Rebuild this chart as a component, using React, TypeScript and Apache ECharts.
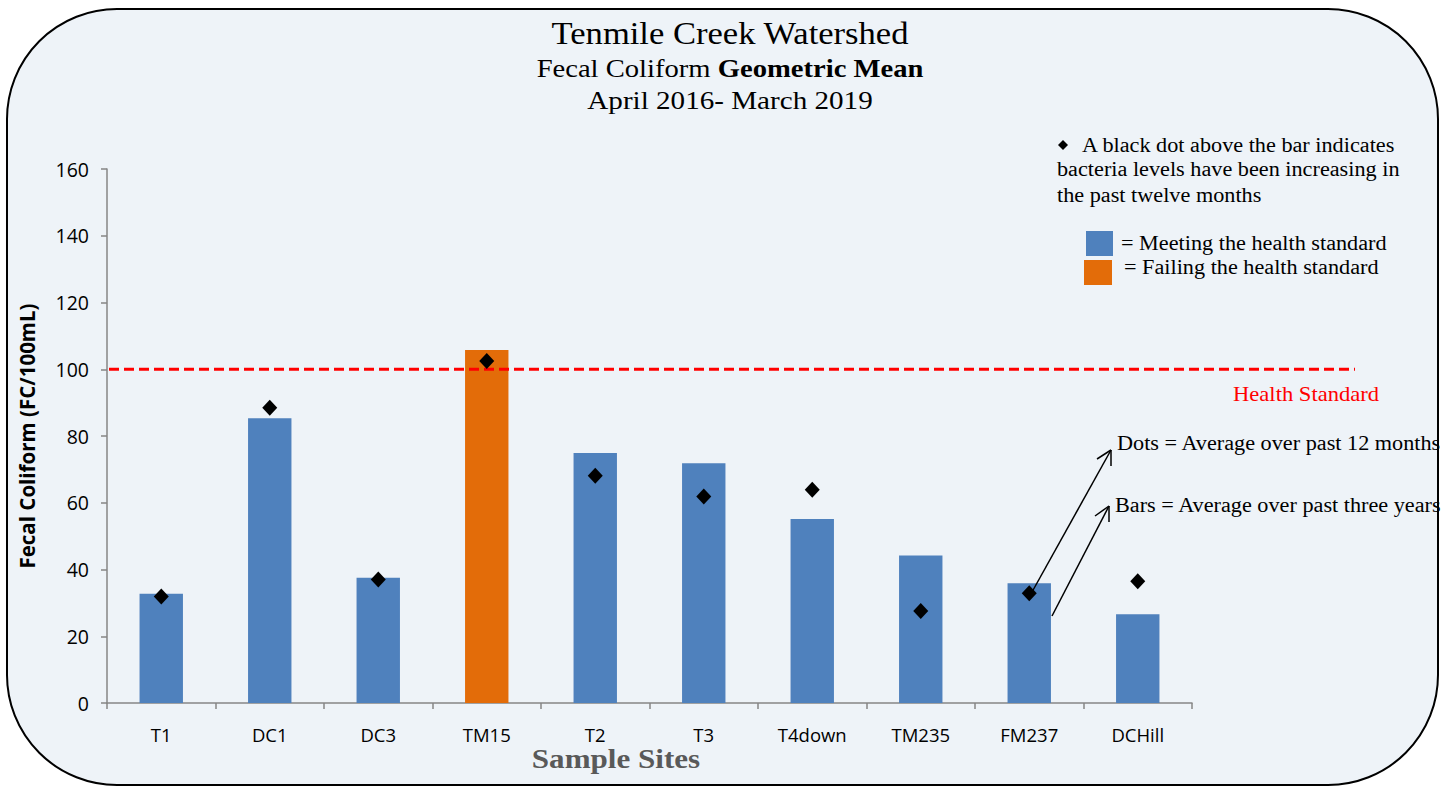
import React, { useEffect, useRef } from "react";
import * as echarts from "echarts";

const sites = ["T1", "DC1", "DC3", "TM15", "T2", "T3", "T4down", "TM235", "FM237", "DCHill"];
const threeYearMean = [32.7, 85.3, 37.5, 105.8, 74.9, 71.8, 55.1, 44.2, 35.9, 26.6];
const twelveMonthMean = [31.9, 88.5, 37.0, 102.5, 68.1, 61.9, 63.9, 27.6, 32.9, 36.5];
const healthStandard = 100;
const yTicks = { min: 0, max: 160, interval: 20 };

const BLUE = "#4F81BD";
const ORANGE = "#E36C09";
const SERIF = "'Liberation Serif', serif";
const SANS = "'Open Sans', sans-serif";

export default function App() {
  const ref = useRef<HTMLDivElement>(null);
  useEffect(() => {
    if (!ref.current) return;
    const chart = echarts.init(ref.current, undefined, { renderer: "svg" });
    chart.setOption({
      animation: false,
      backgroundColor: "#ffffff",
      grid: { left: 107, right: 263, top: 169, bottom: 84 },
      xAxis: {
        type: "category",
        data: sites,
        axisLine: { lineStyle: { color: "#868686", width: 1.5 } },
        axisTick: { show: true, length: 6, lineStyle: { color: "#868686", width: 1.5 } },
        axisLabel: { color: "#000", fontSize: 18.5, fontFamily: SANS, margin: 22 },
      },
      yAxis: {
        type: "value",
        min: yTicks.min,
        max: yTicks.max,
        interval: yTicks.interval,
        name: "Fecal Coliform (FC/100mL)",
        nameLocation: "middle",
        nameGap: 70,
        nameTextStyle: { color: "#000", fontSize: 20.5, fontWeight: "bold", fontFamily: SANS },
        axisLine: { show: true, lineStyle: { color: "#868686", width: 1.5 } },
        axisTick: { show: true, length: 6, lineStyle: { color: "#868686", width: 1.5 } },
        axisLabel: { color: "#000", fontSize: 19.5, fontFamily: SANS, margin: 18 },
        splitLine: { show: false },
      },
      series: [
        {
          type: "bar",
          barWidth: "40%",
          z: 2,
          data: threeYearMean.map((v) => ({
            value: v,
            itemStyle: { color: v > healthStandard ? ORANGE : BLUE },
          })),
        },
        {
          type: "scatter",
          symbol: "diamond",
          symbolSize: [15, 16],
          z: 5,
          itemStyle: { color: "#000", opacity: 1 },
          data: twelveMonthMean,
        },
      ],
    });

    const yStd = chart.convertToPixel({ yAxisIndex: 0 }, healthStandard) as number;
    const xStart = 107;

    const txt = (x: number, y: number, text: string, size: number, sx: number, extra: any = {}) => ({
      type: "text",
      x,
      y,
      z: 10,
      scaleX: sx,
      style: {
        text,
        fontSize: size,
        fontFamily: SERIF,
        fill: "#000",
        textVerticalAlign: "middle",
        ...extra,
      },
    });
    const seg = (x1: number, y1: number, x2: number, y2: number, w = 1.5) => ({
      type: "line",
      z: 10,
      shape: { x1, y1, x2, y2 },
      style: { stroke: "#000", lineWidth: w },
    });
    const B = 20.5;
    const S = 1.085;

    chart.setOption({
      graphic: [
        {
          type: "rect",
          z: -10,
          shape: { x: 7, y: 9, width: 1431, height: 776, r: 110 },
          style: { fill: "#EEF3F8", stroke: "#000", lineWidth: 2 },
        },
        txt(730, 33, "Tenmile Creek Watershed", 32, 1.08, { textAlign: "center" }),
        {
          type: "text",
          x: 730,
          y: 68,
          z: 10,
          scaleX: 1.1,
          style: {
            text: "{n|Fecal Coliform }{b|Geometric Mean}",
            textAlign: "center",
            textVerticalAlign: "middle",
            rich: {
              n: { fontSize: 26, fontFamily: SERIF, fill: "#000", color: "#000" },
              b: { fontSize: 26, fontFamily: SERIF, fontWeight: "bold", fill: "#000", color: "#000" },
            },
          },
        },
        txt(730, 100, "April 2016- March 2019", 26, 1.12, { textAlign: "center" }),
        txt(616, 759, "Sample Sites", 28, 1.11, { textAlign: "center", fontWeight: "bold", fill: "#595959" }),
        {
          type: "line",
          z: 3,
          shape: { x1: xStart + 2, y1: yStd, x2: 1355, y2: yStd },
          style: { stroke: "#FF0000", lineWidth: 3, lineDash: [10, 5] },
        },
        txt(1233, 394, "Health Standard", 20, 1.13, { fill: "#FF0000" }),
        // legend notes
        {
          type: "polygon",
          z: 10,
          shape: { points: [[1063, 140], [1068, 145], [1063, 150], [1058, 145]] },
          style: { fill: "#000" },
        },
        txt(1082, 145, "A black dot above the bar indicates", B, S),
        txt(1057, 169, "bacteria levels have been increasing in", B, S),
        txt(1057, 195, "the past twelve months", B, S),
        {
          type: "rect",
          z: 10,
          shape: { x: 1086, y: 231, width: 27, height: 25 },
          style: { fill: BLUE },
        },
        txt(1121, 243, "= Meeting the health standard", B, S),
        {
          type: "rect",
          z: 10,
          shape: { x: 1084, y: 260, width: 28, height: 25 },
          style: { fill: ORANGE },
        },
        txt(1124, 267, "= Failing the health standard", B, S),
        // annotations
        txt(1117, 443, "Dots = Average over past 12 months", B, S),
        txt(1115, 505, "Bars = Average over past three years", B, S),
        seg(1032, 592, 1111, 450),
        seg(1097, 459, 1111, 450),
        seg(1111, 450, 1111, 466),
        seg(1052, 616, 1109, 506),
        seg(1095, 516, 1109, 506),
        seg(1109, 506, 1109, 522),
      ],
    });

    return () => chart.dispose();
  }, []);
  return (
    <div
      ref={ref}
      style={{ position: "fixed", left: 0, top: 0, width: 1455, height: 787 }}
    />
  );
}
